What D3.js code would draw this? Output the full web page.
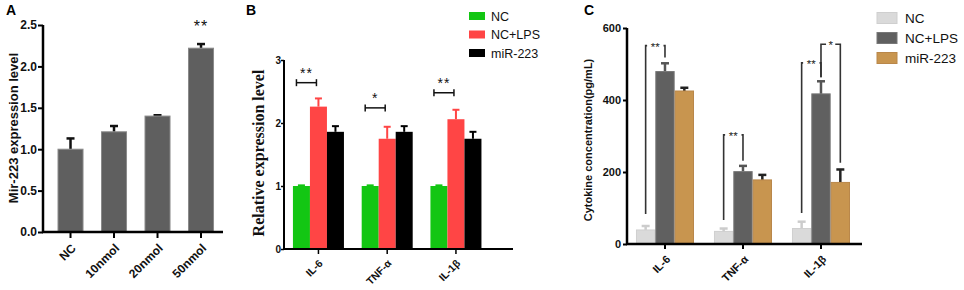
<!DOCTYPE html>
<html><head><meta charset="utf-8">
<script src="https://cdn.jsdelivr.net/npm/d3@7"></script>
<style>
html,body{margin:0;padding:0;background:#fff;}
svg{display:block;font-family:"Liberation Sans",Arial,sans-serif;}
</style></head>
<body>
<svg id="c" width="964" height="290"></svg>
<script>
// ---- Panel A data ----
const catsA = ["NC","10nmol","20nmol","50nmol"];
const valsA = [1.00,1.21,1.40,2.22];
const errA  = [0.13,0.07,0.01,0.05];
const ticksA = [0,0.5,1.0,1.5,2.0,2.5];
const sigA = [{cat:"50nmol", label:"**", y:2.42}];

// ---- Panel B data ----
const catsB = ["IL-6","TNF-α","IL-1β"];
const seriesB = ["NC","NC+LPS","miR-223"];
const bNC = [1.00,1.00,1.00];
const bNCerr = [0.01,0.01,0.01];
const bLPS = [2.26,1.75,2.06];
const bLPSerr = [0.13,0.19,0.15];
const bMiR = [1.86,1.86,1.75];
const bMiRerr = [0.09,0.09,0.11];
const ticksB = [0,1,2,3];
const sigB = [{cat:"IL-6",label:"**",y:2.64},{cat:"TNF-α",label:"*",y:2.24},{cat:"IL-1β",label:"**",y:2.48}];

// ---- Panel C data ----
const catsC = ["IL-6","TNF-α","IL-1β"];
const seriesC = ["NC","NC+LPS","miR-223"];
const cNC = [39,35,43];
const cNCerr = [11,8,19];
const cLPS = [479,201,417];
const cLPSerr = [23,16,35];
const cMiR = [425,178,171];
const cMiRerr = [9,14,36];
const ticksC = [0,200,400,600];
const sigC = [
  {cat:"IL-6", a:0, b:1, top:551, lb:83, rb:518, label:"**"},
  {cat:"TNF-α", a:0, b:1, top:303, lb:67, rb:231, label:"**"},
  {cat:"IL-1β", a:0, b:1, top:503, lb:86, rb:463, label:"**"},
  {cat:"IL-1β", a:1, b:2, top:555, lb:463, rb:226, label:"*"}
];

const svg = d3.select("#c");

function band(domain, r0, step, pi, po){
  const n = domain.length;
  return d3.scaleBand().domain(domain)
    .range([r0, r0 + step*(n - pi + 2*po)])
    .paddingInner(pi).paddingOuter(po);
}

// ================= Panel A =================
(function(){
  const g = svg.append("g");
  const x0 = 43, x1 = 223, yb = 232, yt = 25;
  const x = band(catsA, 43, 43.5, 0.425, 0.345);
  const y = d3.scaleLinear().domain([0,2.5]).range([yb,yt]);
  const data = catsA.map((c,i)=>({c, v:valsA[i], e:errA[i]}));
  const eb = g.selectAll(".ea").data(data).enter().append("g");
  eb.append("line").attr("x1",d=>x(d.c)+x.bandwidth()/2).attr("x2",d=>x(d.c)+x.bandwidth()/2)
    .attr("y1",d=>y(d.v)).attr("y2",d=>y(d.v+d.e)).attr("stroke","#111").attr("stroke-width",2.5);
  eb.append("line").attr("x1",d=>x(d.c)+x.bandwidth()/2-4).attr("x2",d=>x(d.c)+x.bandwidth()/2+4)
    .attr("y1",d=>y(d.v+d.e)).attr("y2",d=>y(d.v+d.e)).attr("stroke","#111").attr("stroke-width",2.5);
  g.selectAll(".ba").data(data).enter().append("rect")
    .attr("x",d=>x(d.c)).attr("width",x.bandwidth())
    .attr("y",d=>y(d.v)).attr("height",d=>yb-y(d.v))
    .attr("fill","#5f5f5f").attr("stroke","#8a8a8a").attr("stroke-width",1);
  const ay = g.append("g").attr("transform",`translate(${x0},0)`)
    .call(d3.axisLeft(y).tickValues(ticksA).tickFormat(d3.format(".1f")).tickSize(5).tickSizeOuter(0));
  ay.select(".domain").remove();
  ay.selectAll(".tick line").attr("stroke","#000").attr("stroke-width",2);
  ay.selectAll(".tick text").attr("font-size",12).attr("font-weight","bold").attr("fill","#111").attr("x",-6)
    .attr("font-family","Liberation Sans, Arial, sans-serif");
  g.append("line").attr("x1",x0).attr("x2",x0).attr("y1",yt).attr("y2",yb+1).attr("stroke","#000").attr("stroke-width",2.5);
  const ax = g.append("g").attr("transform",`translate(0,${yb})`)
    .call(d3.axisBottom(x).tickSize(6).tickSizeOuter(0));
  ax.select(".domain").remove();
  ax.selectAll(".tick line").attr("stroke","#000").attr("stroke-width",2);
  ax.selectAll(".tick text").attr("font-size",12).attr("font-weight","bold").attr("fill","#111")
    .attr("font-family","Liberation Sans, Arial, sans-serif")
    .attr("text-anchor","end").attr("dy",0).attr("y",0)
    .attr("transform","translate(6,17) rotate(-45)");
  g.append("line").attr("x1",x0-1).attr("x2",x1).attr("y1",yb).attr("y2",yb).attr("stroke","#000").attr("stroke-width",2.5);
  g.selectAll(".sa").data(sigA).enter().append("text")
    .attr("x",d=>x(d.cat)+x.bandwidth()/2).attr("y",d=>y(d.y)).attr("text-anchor","middle")
    .attr("font-size",16).attr("letter-spacing",1).attr("fill","#111").text(d=>d.label);
  g.append("text").attr("transform","translate(18,128) rotate(-90)").attr("text-anchor","middle")
    .attr("font-size",13).attr("font-weight","bold").attr("fill","#111").text("Mir-223 expression level");
  g.append("text").attr("x",6).attr("y",15).attr("font-size",14).attr("font-weight","bold").text("A");
})();

// ================= Panel B =================
(function(){
  const g = svg.append("g");
  const x0 = 284, x1 = 513, yb = 249, yt = 60;
  const x = band(catsB, 284, 68.75, 0.258, 0.13);
  const xs = d3.scaleBand().domain(seriesB).range([0, x.bandwidth()]);
  const y = d3.scaleLinear().domain([0,3]).range([yb,yt]);
  const colors = ["#13c613","#ff4545","#000000"];
  const vals = [bNC,bLPS,bMiR], errs = [bNCerr,bLPSerr,bMiRerr];
  const data = [];
  catsB.forEach((c,i)=>seriesB.forEach((s,j)=>data.push({c,s,j,v:vals[j][i],e:errs[j][i]})));
  const cx = d=>x(d.c)+xs(d.s)+xs.bandwidth()/2;
  const eb = g.selectAll(".eb").data(data).enter().append("g");
  eb.append("line").attr("x1",cx).attr("x2",cx).attr("y1",d=>y(d.v)).attr("y2",d=>y(d.v+d.e))
    .attr("stroke",d=>colors[d.j]).attr("stroke-width",2);
  eb.append("line").attr("x1",d=>cx(d)-3.5).attr("x2",d=>cx(d)+3.5).attr("y1",d=>y(d.v+d.e)).attr("y2",d=>y(d.v+d.e))
    .attr("stroke",d=>colors[d.j]).attr("stroke-width",2);
  g.selectAll(".bb").data(data).enter().append("rect")
    .attr("x",d=>x(d.c)+xs(d.s)).attr("width",xs.bandwidth())
    .attr("y",d=>y(d.v)).attr("height",d=>yb-y(d.v)).attr("fill",d=>colors[d.j]);
  const ay = g.append("g").attr("transform",`translate(${x0},0)`)
    .call(d3.axisLeft(y).tickValues(ticksB).tickFormat(d3.format("d")).tickSize(3).tickSizeOuter(0));
  ay.select(".domain").remove();
  ay.selectAll(".tick line").attr("stroke","#000").attr("stroke-width",1.5);
  ay.selectAll(".tick text").attr("font-size",10).attr("font-weight","bold").attr("fill","#111").attr("x",-3)
    .attr("font-family","Liberation Sans, Arial, sans-serif");
  g.append("line").attr("x1",x0).attr("x2",x0).attr("y1",yt).attr("y2",yb+1).attr("stroke","#000").attr("stroke-width",2);
  const ax = g.append("g").attr("transform",`translate(0,${yb})`)
    .call(d3.axisBottom(x).tickSize(5).tickSizeOuter(0));
  ax.select(".domain").remove();
  ax.selectAll(".tick line").attr("stroke","#000").attr("stroke-width",1.5);
  ax.selectAll(".tick text").attr("font-size",10.5).attr("font-weight","bold").attr("fill","#111")
    .attr("font-family","Liberation Sans, Arial, sans-serif")
    .attr("text-anchor","end").attr("dy",0).attr("y",0)
    .attr("transform","translate(5,15) rotate(-45)");
  g.append("line").attr("x1",x0-1).attr("x2",x1).attr("y1",yb).attr("y2",yb).attr("stroke","#000").attr("stroke-width",2);
  const sg = g.selectAll(".sb").data(sigB).enter().append("g");
  const bl = d=>x(d.cat)+xs("NC")+xs.bandwidth()/2-5;
  const br = d=>x(d.cat)+xs("NC+LPS")+xs.bandwidth()/2-2;
  sg.append("line").attr("x1",bl).attr("x2",br).attr("y1",d=>y(d.y)).attr("y2",d=>y(d.y)).attr("stroke","#111").attr("stroke-width",1.5);
  sg.append("line").attr("x1",bl).attr("x2",bl).attr("y1",d=>y(d.y)-3.5).attr("y2",d=>y(d.y)+3.5).attr("stroke","#111").attr("stroke-width",1.5);
  sg.append("line").attr("x1",br).attr("x2",br).attr("y1",d=>y(d.y)-3.5).attr("y2",d=>y(d.y)+3.5).attr("stroke","#111").attr("stroke-width",1.5);
  sg.append("text").attr("x",d=>(bl(d)+br(d))/2).attr("y",d=>y(d.y)-5).attr("text-anchor","middle")
    .attr("font-size",14).attr("letter-spacing",1).attr("fill","#111").text(d=>d.label);
  const lg = g.selectAll(".lb").data(seriesB).enter().append("g")
    .attr("transform",(d,i)=>`translate(469,${16+i*18.5})`);
  lg.append("rect").attr("x",0).attr("y",-4).attr("width",16).attr("height",8).attr("fill",(d,i)=>colors[i]);
  lg.append("text").attr("x",22).attr("y",4.5).attr("font-size",12.5).attr("fill","#111").text(d=>d);
  g.append("text").attr("transform","translate(264,153) rotate(-90)").attr("text-anchor","middle")
    .attr("font-family","Liberation Serif, Times New Roman, serif")
    .attr("font-size",16).attr("font-weight","bold").attr("fill","#111").text("Relative expression level");
  g.append("text").attr("x",246).attr("y",15).attr("font-size",14).attr("font-weight","bold").text("B");
})();

// ================= Panel C =================
(function(){
  const g = svg.append("g");
  const x0 = 627, x1 = 862, yb = 244, yt = 28;
  const x = band(catsC, 627, 78, 0.256, 0.115);
  const xs = d3.scaleBand().domain(seriesC).range([0, x.bandwidth()]);
  const y = d3.scaleLinear().domain([0,600]).range([yb,yt]);
  const colors = ["#dadada","#606060","#c8954f"];
  const strokes = ["#cfcfcf","#777777","#b9874a"];
  const ecol = ["#cccccc","#555555","#222222"];
  const vals = [cNC,cLPS,cMiR], errs = [cNCerr,cLPSerr,cMiRerr];
  const data = [];
  catsC.forEach((c,i)=>seriesC.forEach((s,j)=>data.push({c,s,j,v:vals[j][i],e:errs[j][i]})));
  const cx = d=>x(d.c)+xs(d.s)+xs.bandwidth()/2;
  const eb = g.selectAll(".ec").data(data).enter().append("g");
  eb.append("line").attr("x1",cx).attr("x2",cx).attr("y1",d=>y(d.v)).attr("y2",d=>y(d.v+d.e))
    .attr("stroke",d=>ecol[d.j]).attr("stroke-width",2.5);
  eb.append("line").attr("x1",d=>cx(d)-4).attr("x2",d=>cx(d)+4).attr("y1",d=>y(d.v+d.e)).attr("y2",d=>y(d.v+d.e))
    .attr("stroke",d=>ecol[d.j]).attr("stroke-width",2.5);
  g.selectAll(".bc").data(data).enter().append("rect")
    .attr("x",d=>x(d.c)+xs(d.s)+0.5).attr("width",xs.bandwidth()-1)
    .attr("y",d=>y(d.v)).attr("height",d=>yb-y(d.v))
    .attr("fill",d=>colors[d.j]).attr("stroke",d=>strokes[d.j]).attr("stroke-width",1);
  const px = (cat,k)=>x(cat)+xs(seriesC[k])+xs.bandwidth()/2;
  const sg = g.selectAll(".sc").data(sigC).enter().append("g");
  sg.append("path").attr("fill","none").attr("stroke","#333").attr("stroke-width",1.6)
    .attr("d",d=>{
      const xa = px(d.cat,d.a), xb = px(d.cat,d.b), mid=(xa+xb)/2, gap = d.label.length*3.6+1;
      return `M${xa},${y(d.lb)}V${y(d.top)}H${mid-gap}M${mid+gap},${y(d.top)}H${xb}V${y(d.rb)}`;
    });
  sg.append("text").attr("x",d=>(px(d.cat,d.a)+px(d.cat,d.b))/2).attr("y",d=>y(d.top)+5)
    .attr("text-anchor","middle").attr("font-size",11.5).attr("fill","#222").text(d=>d.label);
  const ay = g.append("g").attr("transform",`translate(${x0},0)`)
    .call(d3.axisLeft(y).tickValues(ticksC).tickFormat(d3.format("d")).tickSize(4).tickSizeOuter(0));
  ay.select(".domain").remove();
  ay.selectAll(".tick line").attr("stroke","#000").attr("stroke-width",2);
  ay.selectAll(".tick text").attr("font-size",11).attr("font-weight","bold").attr("fill","#111").attr("x",-6)
    .attr("font-family","Liberation Sans, Arial, sans-serif");
  g.append("line").attr("x1",x0).attr("x2",x0).attr("y1",yt).attr("y2",yb+1).attr("stroke","#000").attr("stroke-width",2.5);
  const ax = g.append("g").attr("transform",`translate(0,${yb})`)
    .call(d3.axisBottom(x).tickSize(5).tickSizeOuter(0));
  ax.select(".domain").remove();
  ax.selectAll(".tick line").attr("stroke","#000").attr("stroke-width",2);
  ax.selectAll(".tick text").attr("font-size",11).attr("font-weight","bold").attr("fill","#111")
    .attr("font-family","Liberation Sans, Arial, sans-serif")
    .attr("text-anchor","end").attr("dy",0).attr("y",0)
    .attr("transform","translate(6,16) rotate(-45)");
  g.append("line").attr("x1",x0-1).attr("x2",x1).attr("y1",yb).attr("y2",yb).attr("stroke","#000").attr("stroke-width",2.5);
  const lg = g.selectAll(".lc").data(seriesC).enter().append("g")
    .attr("transform",(d,i)=>`translate(877,${18+i*20})`);
  lg.append("rect").attr("x",0).attr("y",-5.5).attr("width",20).attr("height",11)
    .attr("fill",(d,i)=>colors[i]).attr("stroke",(d,i)=>strokes[i]);
  lg.append("text").attr("x",28).attr("y",5).attr("font-size",13.5).attr("fill","#111").text(d=>d);
  g.append("text").attr("transform","translate(592,140) rotate(-90)").attr("text-anchor","middle")
    .attr("font-size",11).attr("font-weight","bold").attr("fill","#111").text("Cytokine concentration(pg/mL)");
  g.append("text").attr("x",584).attr("y",15).attr("font-size",14).attr("font-weight","bold").text("C");
})();
</script>
</body></html>
